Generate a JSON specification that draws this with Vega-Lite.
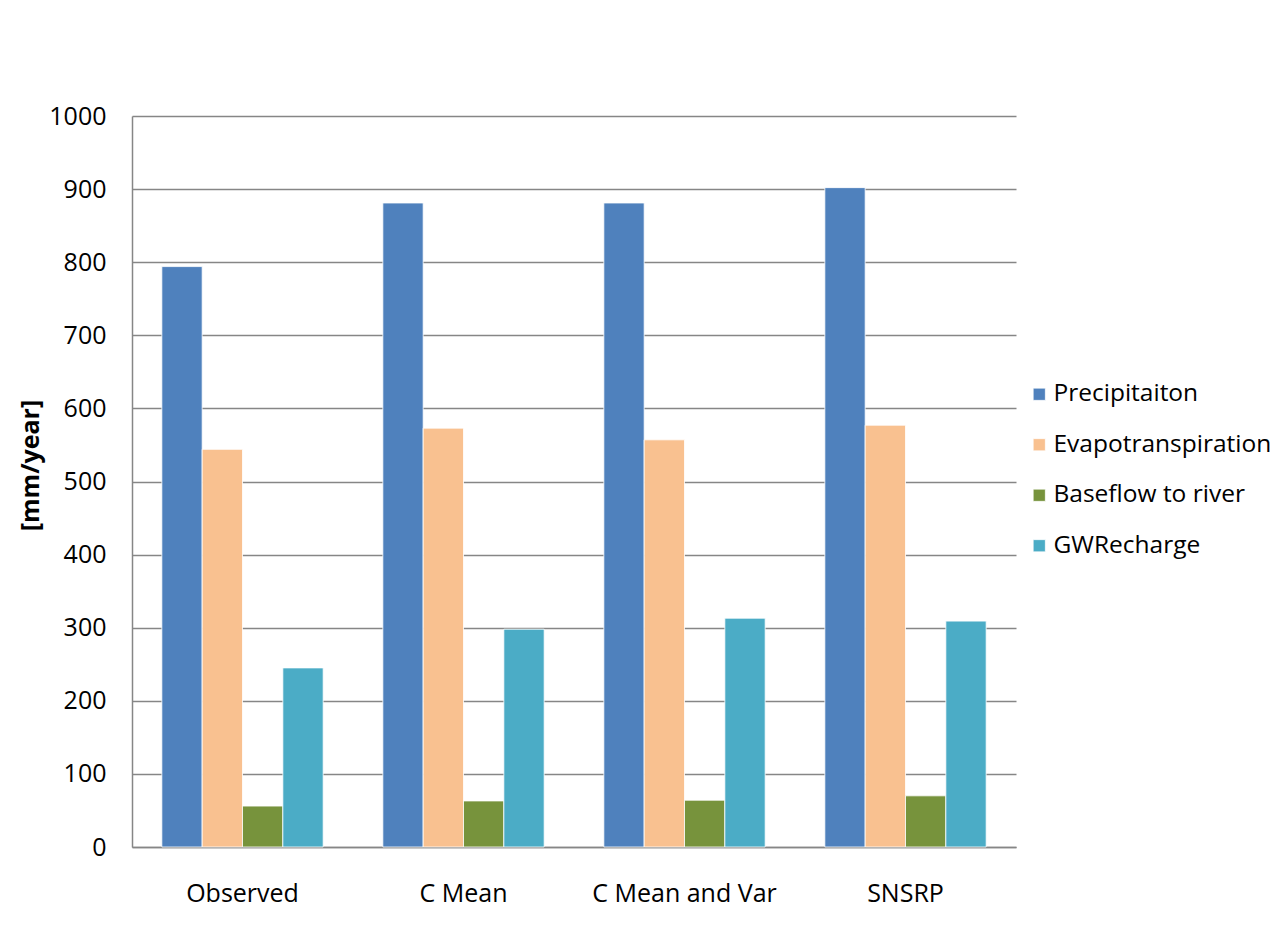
{
  "$schema": "https://vega.github.io/schema/vega-lite/v6.json",
  "autosize": {"type": "none"},
  "width": 884,
  "height": 731,
  "padding": {"left": 132, "top": 116, "right": 269, "bottom": 81},
  "background": "white",
  "data": {
    "values": [
      {"Scenario": "Observed", "Component": "Precipitaiton", "Value": 794},
      {"Scenario": "Observed", "Component": "Evapotranspiration", "Value": 544},
      {"Scenario": "Observed", "Component": "Baseflow to river", "Value": 56},
      {"Scenario": "Observed", "Component": "GWRecharge", "Value": 245},
      {"Scenario": "C Mean", "Component": "Precipitaiton", "Value": 881},
      {"Scenario": "C Mean", "Component": "Evapotranspiration", "Value": 573},
      {"Scenario": "C Mean", "Component": "Baseflow to river", "Value": 63},
      {"Scenario": "C Mean", "Component": "GWRecharge", "Value": 298},
      {"Scenario": "C Mean and Var", "Component": "Precipitaiton", "Value": 881},
      {"Scenario": "C Mean and Var", "Component": "Evapotranspiration", "Value": 557},
      {"Scenario": "C Mean and Var", "Component": "Baseflow to river", "Value": 64},
      {"Scenario": "C Mean and Var", "Component": "GWRecharge", "Value": 313},
      {"Scenario": "SNSRP", "Component": "Precipitaiton", "Value": 902},
      {"Scenario": "SNSRP", "Component": "Evapotranspiration", "Value": 577},
      {"Scenario": "SNSRP", "Component": "Baseflow to river", "Value": 70},
      {"Scenario": "SNSRP", "Component": "GWRecharge", "Value": 309}
    ]
  },
  "mark": {"type": "bar"},
  "encoding": {
    "x": {
      "field": "Scenario",
      "type": "nominal",
      "sort": ["Observed", "C Mean", "C Mean and Var", "SNSRP"],
      "scale": {"paddingInner": 0.27, "paddingOuter": 0.135},
      "axis": {
        "title": null,
        "labelAngle": 0,
        "ticks": false,
        "labelPadding": 34,
        "labelFontSize": 25,
        "labelFont": "Open Sans",
        "labelColor": "#000000",
        "labelLimit": 400,
        "domainColor": "#868686",
        "domainWidth": 1.5
      }
    },
    "xOffset": {
      "field": "Component",
      "type": "nominal",
      "sort": ["Precipitaiton", "Evapotranspiration", "Baseflow to river", "GWRecharge"],
      "scale": {"paddingInner": 0, "paddingOuter": 0}
    },
    "y": {
      "field": "Value",
      "type": "quantitative",
      "scale": {"domain": [0, 1000]},
      "axis": {
        "title": "[mm/year]",
        "titleFont": "Open Sans",
        "titleFontSize": 25,
        "titleFontWeight": "bold",
        "titleColor": "#000000",
        "titlePadding": 5,
        "titleY": 349,
        "values": [0, 100, 200, 300, 400, 500, 600, 700, 800, 900, 1000],
        "format": "d",
        "ticks": false,
        "labelPadding": 26,
        "labelFontSize": 25,
        "labelFont": "Open Sans",
        "labelColor": "#000000",
        "domainColor": "#868686",
        "domainWidth": 1.5,
        "grid": true,
        "gridColor": "#868686",
        "gridWidth": 1.3
      }
    },
    "color": {
      "field": "Component",
      "type": "nominal",
      "sort": ["Precipitaiton", "Evapotranspiration", "Baseflow to river", "GWRecharge"],
      "scale": {
        "domain": ["Precipitaiton", "Evapotranspiration", "Baseflow to river", "GWRecharge"],
        "range": ["#4F81BD", "#F9C190", "#77933C", "#4BACC6"]
      },
      "legend": {
        "title": null,
        "orient": "none",
        "legendX": 895,
        "legendY": 266,
        "symbolType": "square",
        "symbolSize": 150,
        "symbolStrokeWidth": 0,
        "labelFont": "Open Sans",
        "labelFontSize": 24.5,
        "labelColor": "#000000",
        "labelOffset": 2,
        "labelLimit": 400,
        "rowPadding": 25.5
      }
    }
  },
  "config": {
    "view": {"stroke": null},
    "bar": {"stroke": "white", "strokeWidth": 0.8}
  }
}
